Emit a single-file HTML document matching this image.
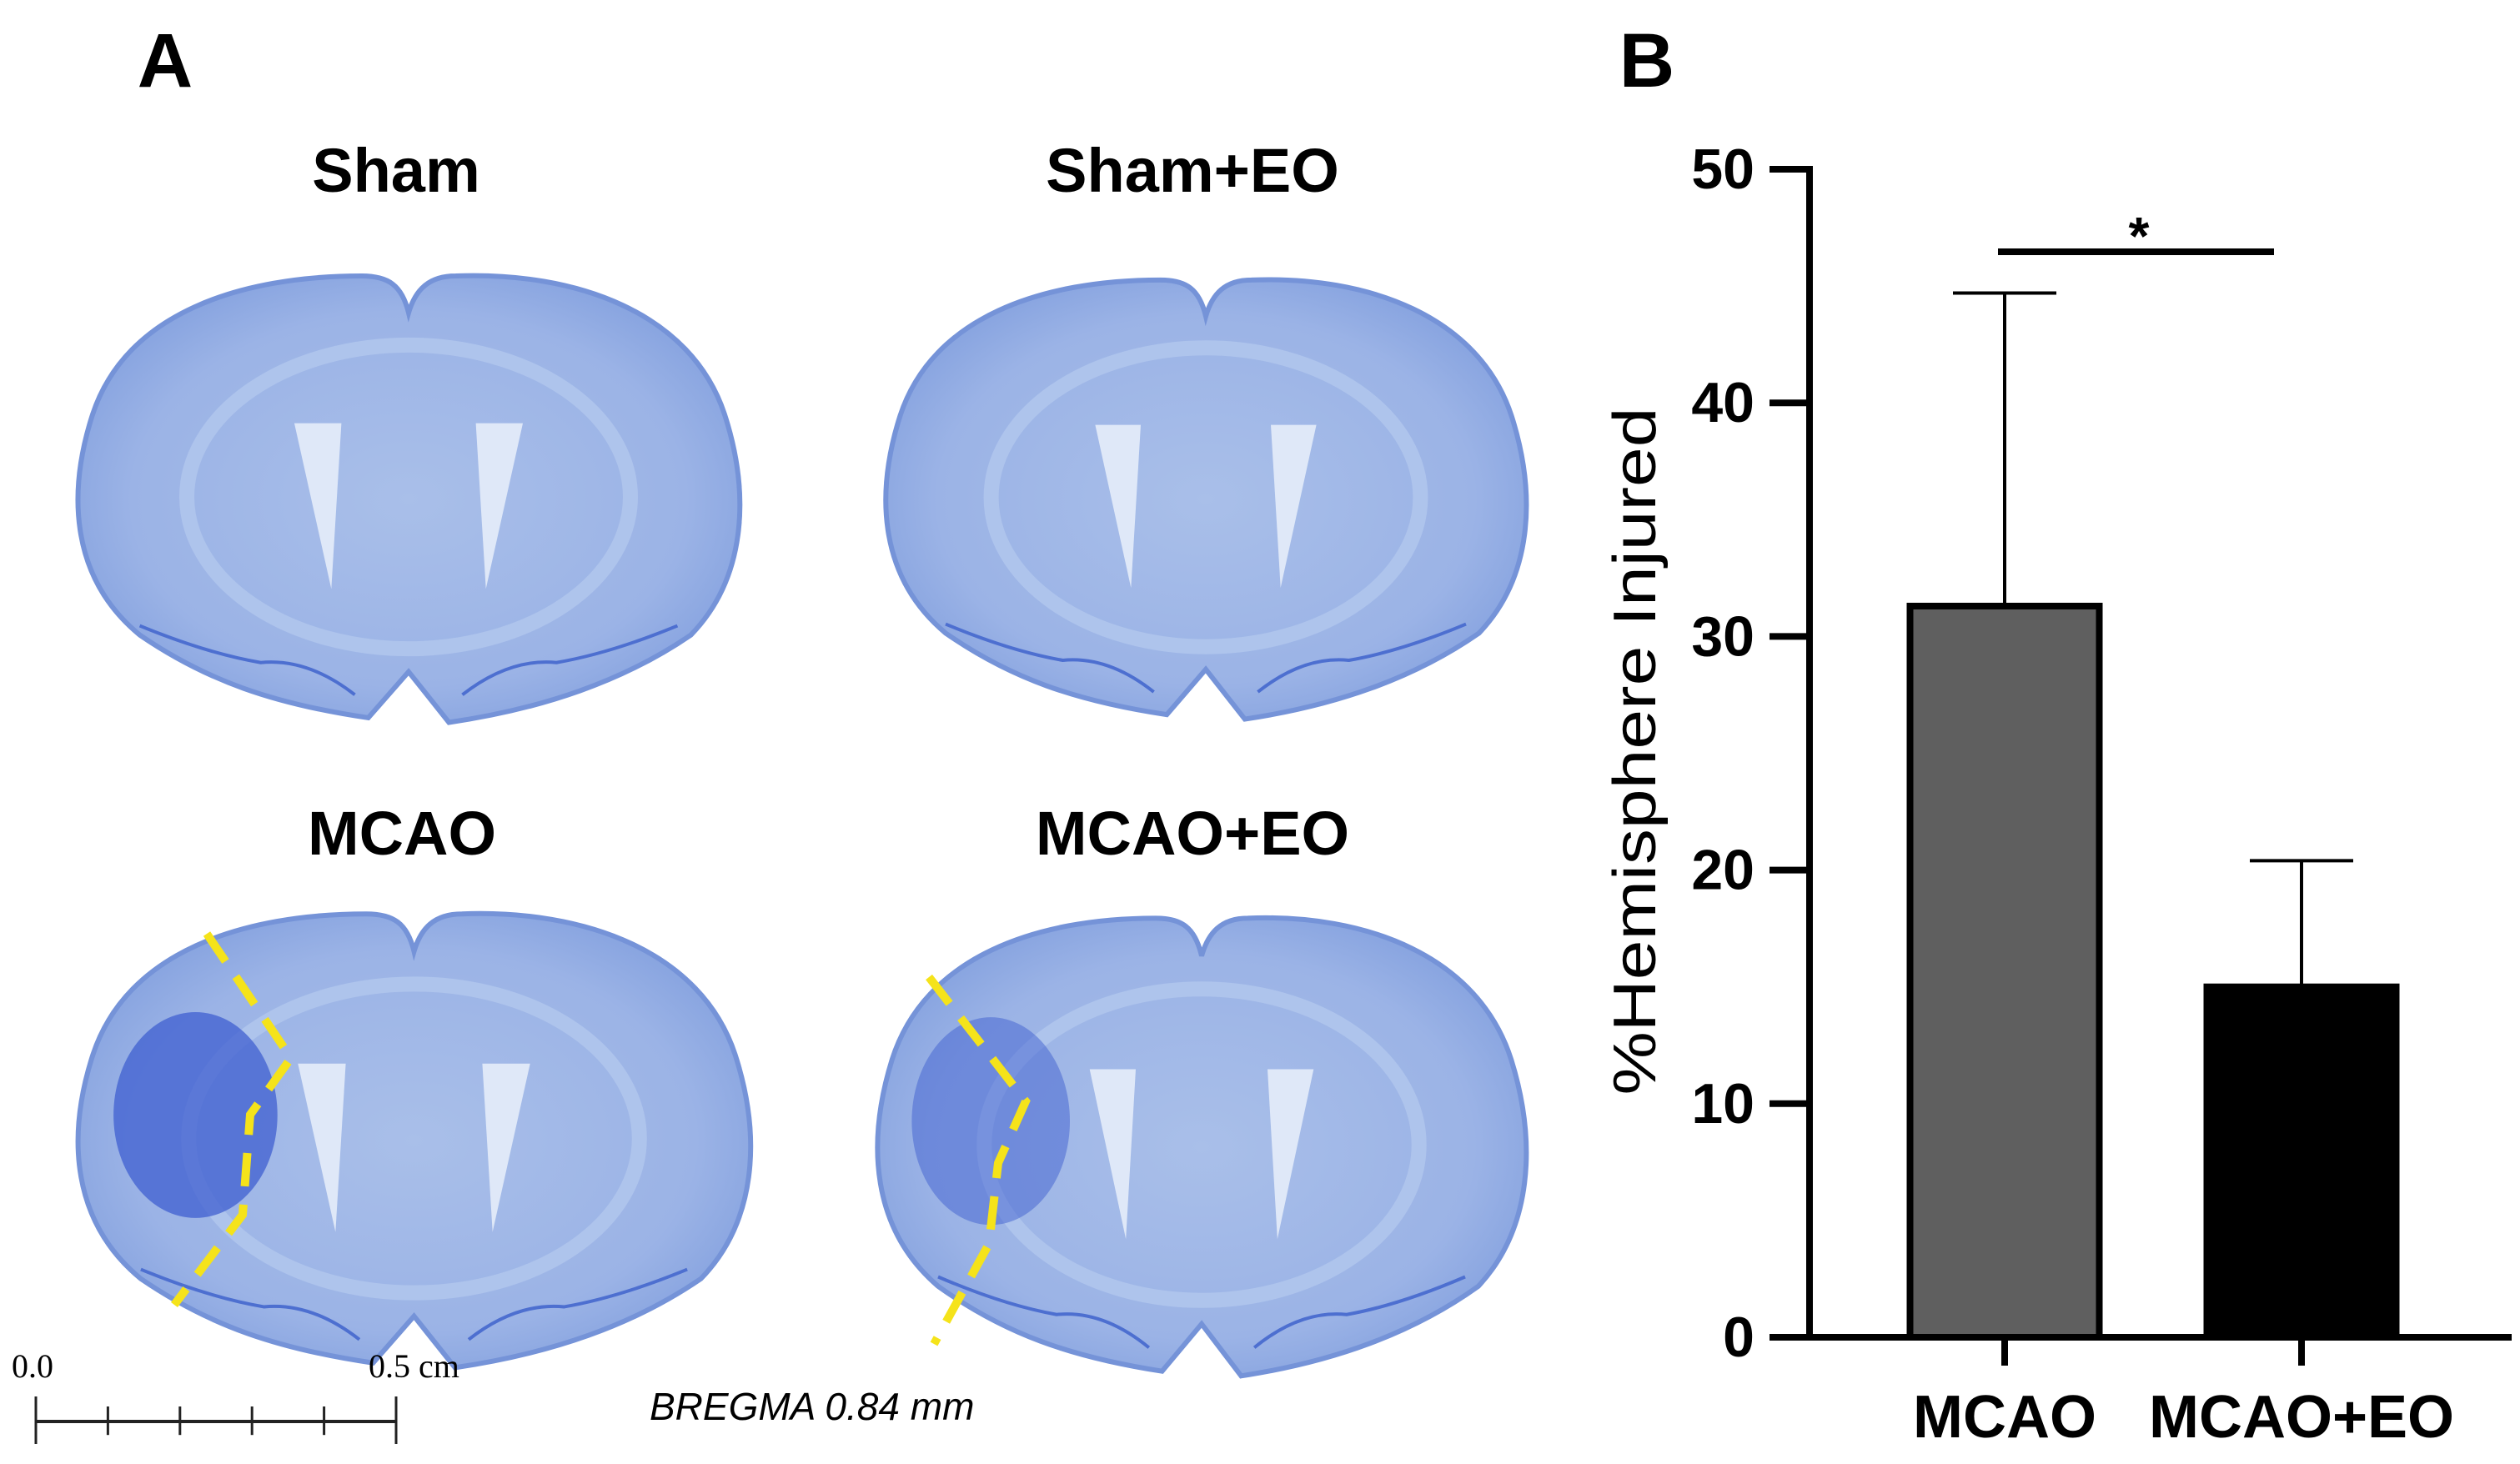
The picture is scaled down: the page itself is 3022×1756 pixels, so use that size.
<!DOCTYPE html>
<html><head><meta charset="utf-8"><style>
html,body{margin:0;padding:0;background:#fff;}
svg{display:block;}
</style></head><body>
<svg id="fig" width="3022" height="1756" viewBox="0 0 3022 1756" xmlns="http://www.w3.org/2000/svg">
<defs>
<radialGradient id="bg1" cx="0.5" cy="0.5" r="0.6">
<stop offset="0" stop-color="#a9bfe9"/><stop offset="0.7" stop-color="#9bb3e6"/><stop offset="1" stop-color="#7f9ddd"/>
</radialGradient>
</defs>
<g id="panelA"></g>
<g id="panelB"></g>
</svg>
<script>
// ---------- chart data ----------
const categories = ["MCAO", "MCAO+EO"];
const means = [31.3, 15.0];
const errors = [13.4, 5.4];
const barColors = ["#5f5f5f", "#000000"];
const yTicks = [0, 10, 20, 30, 40, 50];
const sigLabel = "*";

const NS = "http://www.w3.org/2000/svg";
function mk(tag, attrs, parent, text) {
  const e = document.createElementNS(NS, tag);
  for (const k in attrs) e.setAttribute(k, attrs[k]);
  if (text !== undefined) e.textContent = text;
  parent.appendChild(e);
  return e;
}
const A = document.getElementById('panelA');
const B = document.getElementById('panelB');

// ---------- Panel A ----------
let t = mk('text', {x: 198, y: 104, 'font-family': 'Liberation Sans, sans-serif', 'font-weight': 'bold', 'font-size': 92, 'text-anchor': 'middle'}, A, 'A');



const brains = [
  {name: 'Sham', x: 87, y: 320, w: 806, h: 552, lx: 475, ly: 230},
  {name: 'Sham+EO', x: 1056, y: 325, w: 780, h: 543, lx: 1430, ly: 230},
  {name: 'MCAO', x: 87, y: 1085, w: 819, h: 561, lx: 482, ly: 1025},
  {name: 'MCAO+EO', x: 1046, y: 1090, w: 790, h: 566, lx: 1430, ly: 1025}
];
const brainPath = "M0.5,0.1 C0.49,0.04 0.47,0.02 0.43,0.02 C0.25,0.02 0.08,0.1 0.03,0.32 C-0.01,0.5 0.0,0.68 0.1,0.8 C0.2,0.9 0.3,0.95 0.44,0.98 L0.5,0.88 L0.56,0.99 C0.7,0.96 0.82,0.9 0.92,0.8 C1.0,0.68 1.01,0.5 0.97,0.32 C0.92,0.1 0.75,0.01 0.57,0.02 C0.53,0.02 0.51,0.05 0.5,0.1 Z";
brains.forEach((b, i) => {
  const g = mk('g', {transform: `translate(${b.x},${b.y}) scale(${b.w},${b.h})`}, A);
  
  
  mk('path', {d: brainPath, fill: 'url(#bg1)', stroke: '#7593d8', 'stroke-width': 6, 'vector-effect': 'non-scaling-stroke'}, g);
  mk('ellipse', {cx: 0.5, cy: 0.5, rx: 0.33, ry: 0.33, fill: 'none', stroke: '#b3c8ee', 'stroke-width': 18, 'vector-effect': 'non-scaling-stroke', opacity: 0.8}, g);
  mk('path', {d: 'M0.33,0.34 L0.4,0.34 L0.385,0.7 Z', fill: '#dfe8f8'}, g);
  mk('path', {d: 'M0.67,0.34 L0.6,0.34 L0.615,0.7 Z', fill: '#dfe8f8'}, g);
  mk('path', {d: 'M0.1,0.78 Q0.2,0.84 0.28,0.86 Q0.35,0.85 0.42,0.93', fill: 'none', stroke: '#4d6fd0', 'stroke-width': 4, 'vector-effect': 'non-scaling-stroke'}, g);
  mk('path', {d: 'M0.9,0.78 Q0.8,0.84 0.72,0.86 Q0.65,0.85 0.58,0.93', fill: 'none', stroke: '#4d6fd0', 'stroke-width': 4, 'vector-effect': 'non-scaling-stroke'}, g);
  if (i >= 2) {
    mk('ellipse', {cx: 0.18, cy: 0.45, rx: 0.12, ry: 0.22, fill: '#3f5fd0', opacity: i === 2 ? 0.75 : 0.5}, g);
  }
  const lab = mk('text', {x: b.lx, y: b.ly, 'font-family': 'Liberation Sans, sans-serif', 'font-weight': 'bold', 'font-size': 74, 'text-anchor': 'middle'}, A, b.name);
  
  
});
[[[248,1120],[349,1269],[300,1337],[291,1457],[209,1565]],
 [[1114,1172],[1230,1321],[1197,1395],[1186,1492],[1120,1612]]].forEach((pts, i) => {
  const p = mk('polyline', {points: pts.map(q => q.join(',')).join(' '), fill: 'none', stroke: '#f5e31a', 'stroke-width': 10, 'stroke-dasharray': '40 22'}, A);
  
  
});
const sb = mk('g', {}, A);


mk('line', {x1: 43, y1: 1705, x2: 475, y2: 1705, stroke: '#222', 'stroke-width': 4}, sb);
for (let k = 0; k <= 5; k++) {
  const x = 43 + k * 86.4;
  const ext = (k === 0 || k === 5) ? 30 : 18;
  mk('line', {x1: x, y1: 1705 - ext, x2: x, y2: 1705 + ext * 0.9, stroke: '#222', 'stroke-width': 3}, sb);
}
mk('text', {x: 14, y: 1652, 'font-family': 'Liberation Serif, serif', 'font-size': 40}, sb, '0.0');
mk('text', {x: 442, y: 1652, 'font-family': 'Liberation Serif, serif', 'font-size': 40}, sb, '0.5 cm');
t = mk('text', {x: 779, y: 1703, 'font-family': 'Liberation Sans, sans-serif', 'font-style': 'italic', 'font-size': 46}, A, 'BREGMA 0.84 mm');



// ---------- Panel B ----------
t = mk('text', {x: 1975, y: 104, 'font-family': 'Liberation Sans, sans-serif', 'font-weight': 'bold', 'font-size': 92, 'text-anchor': 'middle'}, B, 'B');



const axX = 2170, y0 = 1604, y50 = 203;
const yMax = 50;
const yScale = v => y0 - (v / yMax) * (y0 - y50);
const barCenters = [2404, 2760];
const barW = 227;
const xPos = i => barCenters[i];

const yAxis = mk('g', {}, B);


mk('line', {x1: axX, y1: y50 - 4, x2: axX, y2: y0 + 4, stroke: '#000', 'stroke-width': 8}, yAxis);
yTicks.forEach(v => {
  const y = yScale(v);
  const tk = mk('line', {x1: axX - 48, y1: y, x2: axX, y2: y, stroke: '#000', 'stroke-width': 8}, yAxis);
  
  
  const lb = mk('text', {x: axX - 66, y: y + 23, 'font-family': 'Liberation Sans, sans-serif', 'font-weight': 'bold', 'font-size': 68, 'text-anchor': 'end'}, yAxis, String(v));
  
  
});
const yt = mk('text', {x: 0, y: 0, transform: 'translate(1985,901) rotate(-90)', 'font-family': 'Liberation Sans, sans-serif', 'font-size': 72, 'text-anchor': 'middle', textLength: 825, lengthAdjust: 'spacingAndGlyphs'}, B, '%Hemisphere Injured');



const xAxis = mk('g', {}, B);


mk('line', {x1: axX - 4, y1: y0, x2: 3012, y2: y0, stroke: '#000', 'stroke-width': 8}, xAxis);

categories.forEach((c, i) => {
  const cx = xPos(i);
  const top = yScale(means[i]);
  const bar = mk('rect', {x: cx - barW / 2, y: top, width: barW, height: y0 - top, fill: barColors[i], stroke: '#000', 'stroke-width': 8}, B);
  
  
  const eTop = yScale(means[i] + errors[i]);
  const eb = mk('g', {}, B);
  
  
  mk('line', {x1: cx, y1: top, x2: cx, y2: eTop, stroke: '#000', 'stroke-width': 4}, eb);
  mk('line', {x1: cx - 62, y1: eTop, x2: cx + 62, y2: eTop, stroke: '#000', 'stroke-width': 4}, eb);
  const tk = mk('line', {x1: cx, y1: y0, x2: cx, y2: y0 + 34, stroke: '#000', 'stroke-width': 8}, xAxis);
  
  
  const lb = mk('text', {x: cx, y: 1724, 'font-family': 'Liberation Sans, sans-serif', 'font-weight': 'bold', 'font-size': 72, 'text-anchor': 'middle'}, xAxis, c);
  
  
});
const sig = mk('g', {}, B);


mk('line', {x1: 2396, y1: 302, x2: 2727, y2: 302, stroke: '#000', 'stroke-width': 8}, sig);
mk('text', {x: 2565, y: 305, 'font-family': 'Liberation Sans, sans-serif', 'font-weight': 'bold', 'font-size': 64, 'text-anchor': 'middle'}, sig, sigLabel);
</script>
</body></html>
